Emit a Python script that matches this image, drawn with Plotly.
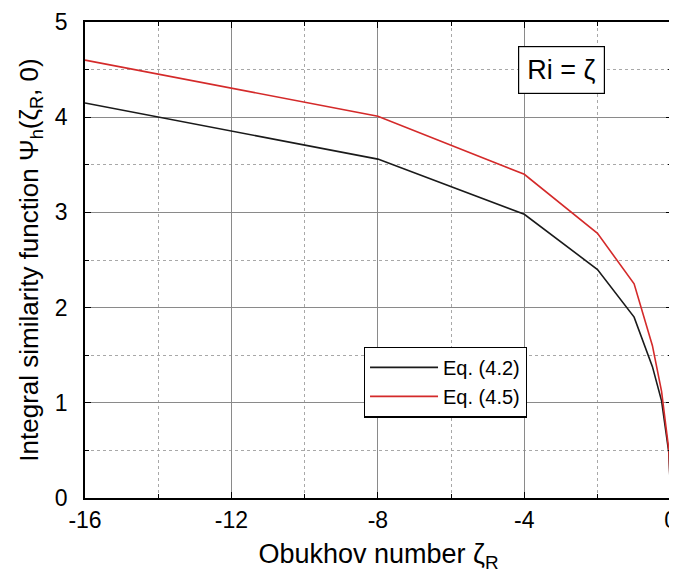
import plotly.graph_objects as go

# Obukhov number zeta_R
zeta_R = [-16, -8, -4, -2, -1, -0.5, -0.25, -0.1, -0.05, 0]
# Integral similarity function Psi_h(zeta_R, 0)
psi_eq42 = [4.15, 3.56, 2.98, 2.40, 1.90, 1.38, 1.02, 0.64, 0.47, 0.0]
psi_eq45 = [4.60, 4.01, 3.40, 2.78, 2.25, 1.60, 1.12, 0.66, 0.50, 0.0]

x_ticks = [-16, -12, -8, -4, 0]
y_ticks = [0, 1, 2, 3, 4, 5]

FONT = "Liberation Sans, Arial, sans-serif"

fig = go.Figure()
fig.add_trace(go.Scatter(x=zeta_R, y=psi_eq42, mode="lines", name="Eq. (4.2)",
                         line=dict(color="#1a1a1a", width=1.6)))
fig.add_trace(go.Scatter(x=zeta_R, y=psi_eq45, mode="lines", name="Eq. (4.5)",
                         line=dict(color="#d42a2a", width=1.6)))

fig.add_annotation(x=-2.97, y=4.5, xref="x", yref="y", text="Ri = ζ", showarrow=False,
                   font=dict(family=FONT, size=27, color="black"),
                   bordercolor="black", borderwidth=1.2, borderpad=8, bgcolor="white")

axis_common = dict(
    showline=True, linecolor="black", linewidth=1.5, mirror="allticks",
    ticks="inside", ticklen=6, tickcolor="black", tickwidth=1.3,
    showgrid=True, gridcolor="#8a8a8a", gridwidth=1,
    zeroline=False, automargin=False, ticklabeloverflow="allow",
    tickfont=dict(family=FONT, size=23, color="black"),
)

fig.update_xaxes(
    range=[-16, 0.035], tickmode="array", tickvals=x_ticks, ticktext=[str(v) for v in x_ticks],
    minor=dict(dtick=2, tick0=0, showgrid=True, gridcolor="#a8a8a8", griddash="dot",
               gridwidth=1, ticks="inside", ticklen=4, tickcolor="black"),
    title=dict(text="Obukhov number ζ<sub>R</sub>", font=dict(family=FONT, size=27, color="black"),
               standoff=12),
    ticklabelstandoff=1,
    **axis_common,
)
fig.update_yaxes(
    range=[0, 5], tickmode="array", tickvals=y_ticks, ticktext=[str(v) for v in y_ticks],
    minor=dict(dtick=0.5, tick0=0, showgrid=True, gridcolor="#a8a8a8", griddash="dot",
               gridwidth=1, ticks="inside", ticklen=4, tickcolor="black"),
    title=dict(text="Integral similarity function Ψ<sub>h</sub>(ζ<sub>R</sub>, 0)",
               font=dict(family=FONT, size=26, color="black"), standoff=9),
    ticklabelstandoff=11,
    **axis_common,
)

# the page body adds an 8 px offset, so the figure is 8 px smaller and margins shifted
fig.update_layout(
    width=669, height=569,
    margin=dict(l=77, r=5, t=14, b=79),
    paper_bgcolor="white", plot_bgcolor="white",
    font=dict(family=FONT, color="black"),
    legend=dict(x=0.475, y=0.318, xanchor="left", yanchor="top",
                bgcolor="white", bordercolor="black", borderwidth=1.2,
                font=dict(family=FONT, size=20, color="black"),
                tracegroupgap=0, itemwidth=68),
    showlegend=True,
)

fig.write_html("out.html")
